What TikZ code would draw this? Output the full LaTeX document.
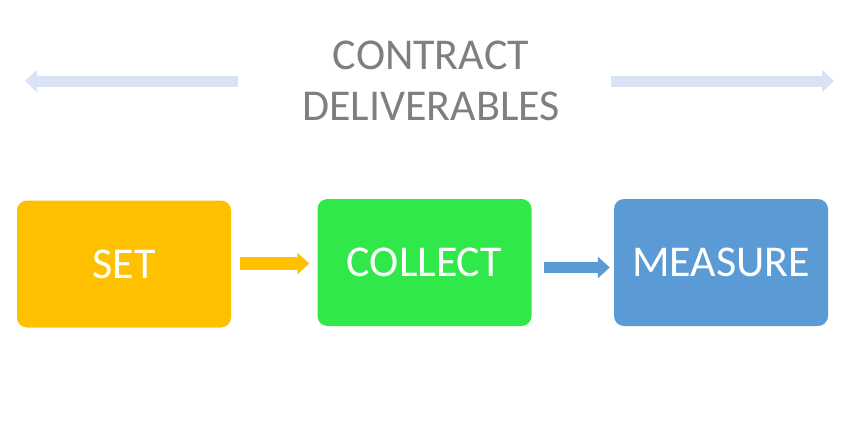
\documentclass[tikz,border=0pt]{standalone}
\usepackage{fontspec}
\setmainfont{Carlito}
\usetikzlibrary{arrows.meta}
\definecolor{setcol}{HTML}{FFC000}
\definecolor{collectcol}{HTML}{30E84A}
\definecolor{measurecol}{HTML}{5B9BD5}
\definecolor{contractcol}{HTML}{DAE3F3}
\definecolor{titlecol}{HTML}{7F7F7F}

\begin{document}
\begin{tikzpicture}[x=1pt,y=-1pt]
 \tikzstyle{stagebox} = [rounded corners=10pt,minimum width=214pt,minimum height=127pt,inner sep=0,text=white,font=\fontsize{44}{52}\selectfont]
 \tikzstyle{flow} = [line width=13pt,-{Triangle[length=12pt,width=21pt]}]
 \tikzstyle{span} = [contractcol,line width=11pt,-{Triangle[length=12pt,width=22pt]}]

  \useasboundingbox (0,0) rectangle (861,439);

  % Title
  \node[text=titlecol,align=center,font=\fontsize{44}{51}\selectfont] (title) at (431,81) {CONTRACT\\DELIVERABLES};
  \coordinate (leftend) at (25,81);
  \coordinate (rightend) at (834,81);
  \draw[span] (238,81) coordinate (lstart) -- (leftend);
  \draw[span] (611,81) coordinate (rstart) -- (rightend);

  % Stages
  \node[stagebox,fill=setcol] (set) at (124,264) {SET};
  \node[stagebox,fill=collectcol] (collect) at (424.5,262.5) {COLLECT};
  \node[stagebox,fill=measurecol] (measure) at (721,262.5) {MEASURE};

  % Flow arrows
  \draw[flow,setcol] ([xshift=9pt]set.east |- 0,263.5) -- ([xshift=-8pt]collect.west |- 0,263.5);
  \draw[flow,measurecol,line width=11pt] ([xshift=12pt]collect.east |- 0,267.5) -- ([xshift=-4pt]measure.west |- 0,267.5);

\end{tikzpicture}
\end{document}
